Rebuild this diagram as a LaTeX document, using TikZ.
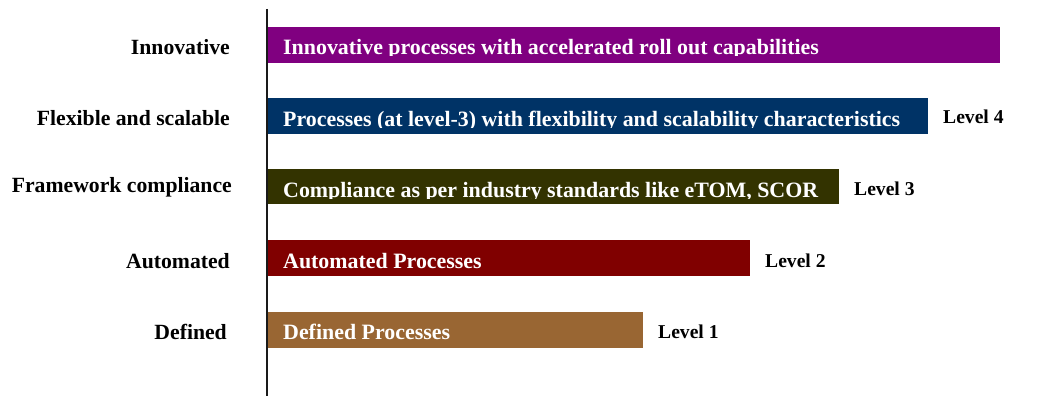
\documentclass[tikz,border=0pt]{standalone}
\usepackage{fontspec}
\setmainfont{Liberation Serif}
\usepackage{tikz}
\usetikzlibrary{positioning}
\definecolor{innov}{HTML}{800080}
\definecolor{flexi}{HTML}{003366}
\definecolor{frame}{HTML}{333300}
\definecolor{autom}{HTML}{800000}
\definecolor{defin}{HTML}{996633}
\definecolor{axisgray}{HTML}{1A1A1A}

\tikzset{
  bar/.style={anchor=south west, inner sep=0pt, outer sep=0pt, minimum height=36pt},
  bartext/.style={anchor=base west, inner sep=0pt, text=white,
    font=\fontsize{21.9}{24}\selectfont\bfseries},
  stagelabel/.style={anchor=base east, inner sep=0pt,
    font=\fontsize{21.7}{24}\selectfont\bfseries},
  levellabel/.style={anchor=base west, inner sep=0pt,
    font=\fontsize{19.6}{22}\selectfont\bfseries}
}

\begin{document}
\begin{tikzpicture}[x=1pt, y=1pt]
  \useasboundingbox (0,0) rectangle (1039,396);
  % Axis
  \coordinate (axtop) at (267,387);
  \coordinate (axbot) at (267,0);
  \draw[axisgray, line width=1.5pt] (axtop) -- (axbot);
  % Bars
  \node[bar, fill=innov, minimum width=732pt] (bar1) at (268,333) {};
  \node[bar, fill=flexi, minimum width=660pt] (bar2) at (268,262) {};
  \node[bar, fill=frame, minimum width=571pt, minimum height=35pt] (bar3) at (268,192) {};
  \node[bar, fill=autom, minimum width=482pt] (bar4) at (268,120) {};
  \node[bar, fill=defin, minimum width=375pt] (bar5) at (268,48) {};
  % Bar texts (cut at the baseline)
  \begin{scope}
    \clip (268,340) rectangle (1000,369)
          (268,268.5) rectangle (928,298)
          (268,197) rectangle (839,227)
          (268,126) rectangle (750,156)
          (268,55) rectangle (643,84);
    \node[bartext] (txt1) at (283,341) {Innovative processes with accelerated roll out capabilities};
    \node[bartext] (txt2) at (283,269.5) {Processes (at level-3) with flexibility and scalability characteristics};
    \node[bartext] (txt3) at (283,198) {Compliance as per industry standards like eTOM, SCOR};
    \node[bartext] (txt4) at (283,127) {Automated Processes};
    \node[bartext] (txt5) at (283,56) {Defined Processes};
  \end{scope}
  % Stage names
  \node[stagelabel] (stage1) at (230,341) {Innovative};
  \node[stagelabel] (stage2) at (230,270) {Flexible and scalable};
  \node[stagelabel] (stage3) at (232,203) {Framework compliance};
  \node[stagelabel] (stage4) at (230,127) {Automated};
  \node[stagelabel] (stage5) at (227,56) {Defined};
  % Levels
  \node[levellabel] (lev4) at (943,272) {Level 4};
  \node[levellabel] (lev3) at (854,200) {Level 3};
  \node[levellabel] (lev2) at (765,128) {Level 2};
  \node[levellabel] (lev1) at (658,57) {Level 1};
\end{tikzpicture}
\end{document}
